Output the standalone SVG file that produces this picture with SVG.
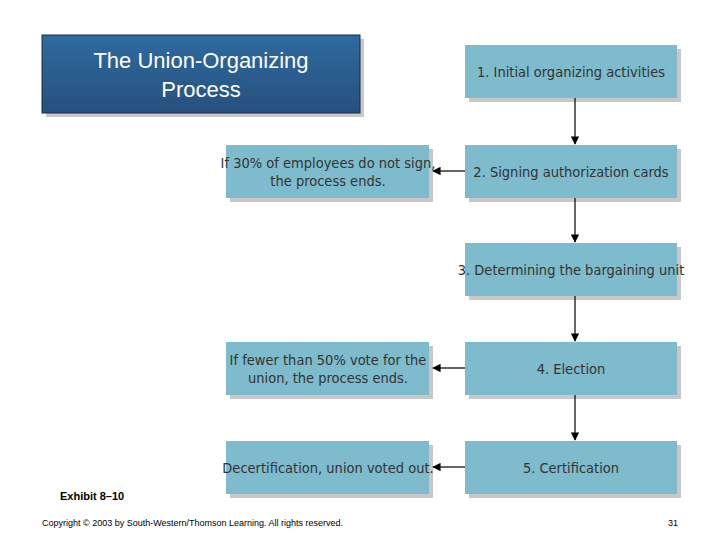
<svg xmlns="http://www.w3.org/2000/svg" width="720" height="540" viewBox="0 0 720 540">
<defs>
<linearGradient id="tg" x1="0" y1="0" x2="0" y2="1"><stop offset="0" stop-color="#2f6aa0"/><stop offset="1" stop-color="#26507e"/></linearGradient>
<marker id="ah" viewBox="0 0 10 10" refX="9" refY="5" markerWidth="7" markerHeight="7" orient="auto"><path d="M0,0 L10,5 L0,10 z" fill="#000"/></marker>
<style>
.sh{fill:#c8c8c8}
.bx{fill:#7ebbcd}
.t{font-family:"DejaVu Sans Condensed","Liberation Sans Narrow","Liberation Sans",sans-serif;font-size:14.5px;fill:#333;text-anchor:middle;font-stretch:condensed}
.c{stroke:#000;stroke-width:1.2;fill:none;marker-end:url(#ah)}
.s{font-family:"Liberation Sans",Arial,sans-serif;fill:#000}
</style>
</defs>
<rect width="720" height="540" fill="#fff"/>
<g id="title">
<rect x="46" y="39" width="318" height="78" class="sh"/>
<rect x="42" y="35" width="318" height="78" fill="url(#tg)" stroke="#1a2a40" stroke-width="1"/>
<text x="201" y="68" font-family="Liberation Sans,Arial,sans-serif" font-size="22" fill="#fff" text-anchor="middle">The Union-Organizing</text>
<text x="201" y="97" font-family="Liberation Sans,Arial,sans-serif" font-size="22" fill="#fff" text-anchor="middle">Process</text>
</g>
<g id="n1"><rect x="469" y="49" width="212" height="53" class="sh"/><rect x="465" y="45" width="212" height="53" class="bx"/><text x="571" y="77" class="t">1. Initial organizing activities</text></g>
<g id="n2"><rect x="469" y="149" width="212" height="53" class="sh"/><rect x="465" y="145" width="212" height="53" class="bx"/><text x="571" y="177" class="t">2. Signing authorization cards</text></g>
<g id="n3"><rect x="469" y="247" width="212" height="53" class="sh"/><rect x="465" y="243" width="212" height="53" class="bx"/><text x="571" y="275" class="t">3. Determining the bargaining unit</text></g>
<g id="n4"><rect x="469" y="346" width="212" height="53" class="sh"/><rect x="465" y="342" width="212" height="53" class="bx"/><text x="571" y="374" class="t">4. Election</text></g>
<g id="n5"><rect x="469" y="445" width="212" height="53" class="sh"/><rect x="465" y="441" width="212" height="53" class="bx"/><text x="571" y="473" class="t">5. Certification</text></g>
<g id="s2"><rect x="230" y="149" width="203" height="53" class="sh"/><rect x="226" y="145" width="203" height="53" class="bx"/><text x="328" y="168" class="t">If 30% of employees do not sign,</text><text x="328" y="186" class="t">the process ends.</text></g>
<g id="s4"><rect x="230" y="346" width="203" height="53" class="sh"/><rect x="226" y="342" width="203" height="53" class="bx"/><text x="328" y="365" class="t">If fewer than 50% vote for the</text><text x="328" y="383" class="t">union, the process ends.</text></g>
<g id="s5"><rect x="230" y="445" width="203" height="53" class="sh"/><rect x="226" y="441" width="203" height="53" class="bx"/><text x="328" y="473" class="t">Decertification, union voted out.</text></g>
<g id="connectors">
<line x1="575" y1="98" x2="575" y2="144" class="c"/>
<line x1="575" y1="198" x2="575" y2="242" class="c"/>
<line x1="575" y1="296" x2="575" y2="341" class="c"/>
<line x1="575" y1="395" x2="575" y2="440" class="c"/>
<line x1="465" y1="171" x2="433" y2="171" class="c"/>
<line x1="465" y1="368" x2="433" y2="368" class="c"/>
<line x1="465" y1="467" x2="433" y2="467" class="c"/>
</g>
<text x="60" y="500" class="s" font-size="11" font-weight="bold">Exhibit 8–10</text>
<text x="42" y="526" class="s" font-size="9">Copyright © 2003 by South-Western/Thomson Learning. All rights reserved.</text>
<text x="678" y="526" class="s" font-size="9" text-anchor="end">31</text>
</svg>
